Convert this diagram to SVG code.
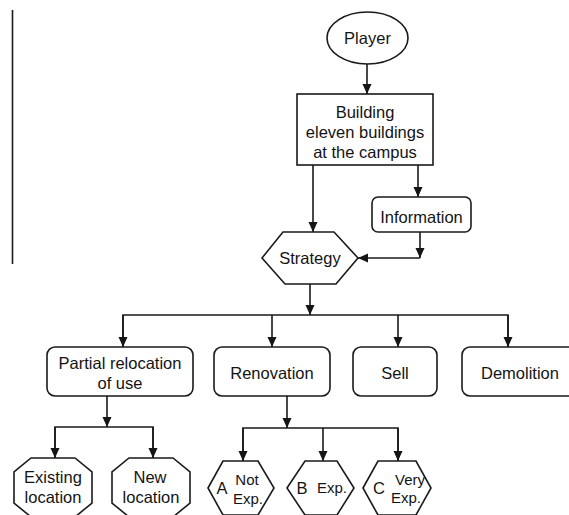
<svg xmlns="http://www.w3.org/2000/svg" width="569" height="515" viewBox="0 0 569 515">
<defs>
<marker id="ah" markerUnits="userSpaceOnUse" markerWidth="10" markerHeight="10" viewBox="0 0 10 10" refX="10" refY="5" orient="auto">
<path d="M0,0.5 L10,5 L0,9.5 Z" fill="#151515"/>
</marker>
<style>
.s{fill:#fff;stroke:#1a1a1a;stroke-width:1.6}
.t{font-family:"Liberation Sans",Arial,sans-serif;font-size:16.5px;fill:#141414;text-anchor:middle}
.sm{font-size:15px}
.c{fill:none;stroke:#1a1a1a;stroke-width:1.6}
</style>
</defs>
<rect width="569" height="515" fill="#fff"/>
<line x1="12.5" y1="10" x2="12.5" y2="264" stroke="#1a1a1a" stroke-width="1.6"/>
<g id="connectors">
<line class="c" x1="367" y1="64" x2="367" y2="94" marker-end="url(#ah)"/>
<line class="c" x1="313" y1="165" x2="313" y2="232" marker-end="url(#ah)"/>
<line class="c" x1="418" y1="165" x2="418" y2="197" marker-end="url(#ah)"/>
<line class="c" x1="420" y1="232" x2="420" y2="258" marker-end="url(#ah)"/>
<line class="c" x1="420" y1="258" x2="358" y2="258" marker-end="url(#ah)"/>
<line class="c" x1="310" y1="284" x2="310" y2="315" marker-end="url(#ah)"/>
<path class="c" d="M123,347 V315 H508 V347"/>
<line class="c" x1="123" y1="315" x2="123" y2="347" marker-end="url(#ah)"/>
<line class="c" x1="272" y1="315" x2="272" y2="347" marker-end="url(#ah)"/>
<line class="c" x1="398" y1="315" x2="398" y2="347" marker-end="url(#ah)"/>
<line class="c" x1="508" y1="315" x2="508" y2="347" marker-end="url(#ah)"/>
<line class="c" x1="107" y1="396" x2="107" y2="427" marker-end="url(#ah)"/>
<path class="c" d="M55,458 V427 H153 V458"/>
<line class="c" x1="55" y1="427" x2="55" y2="458" marker-end="url(#ah)"/>
<line class="c" x1="153" y1="427" x2="153" y2="458" marker-end="url(#ah)"/>
<line class="c" x1="287" y1="396" x2="287" y2="428" marker-end="url(#ah)"/>
<path class="c" d="M243,461 V428 H398 V461"/>
<line class="c" x1="243" y1="428" x2="243" y2="461" marker-end="url(#ah)"/>
<line class="c" x1="323" y1="428" x2="323" y2="461" marker-end="url(#ah)"/>
<line class="c" x1="398" y1="428" x2="398" y2="461" marker-end="url(#ah)"/>
</g>
<g id="player">
<ellipse class="s" cx="367.5" cy="38" rx="40.5" ry="26"/>
<text class="t" x="367.5" y="44">Player</text>
</g>
<g id="building">
<rect class="s" x="297" y="94" width="136" height="71"/>
<text class="t" x="365" y="118">Building</text>
<text class="t" x="365" y="138">eleven buildings</text>
<text class="t" x="365" y="158">at the campus</text>
</g>
<g id="information">
<rect class="s" x="372" y="197" width="99" height="35" rx="6"/>
<text class="t" x="421.5" y="223">Information</text>
</g>
<g id="strategy">
<polygon class="s" points="262,258 283,232 334,232 358,258 336,284 285,284"/>
<text class="t" x="310" y="264">Strategy</text>
</g>
<g id="partial">
<rect class="s" x="47" y="347" width="146" height="49" rx="8"/>
<text class="t" x="120" y="369">Partial relocation</text>
<text class="t" x="120" y="389">of use</text>
</g>
<g id="renovation">
<rect class="s" x="214" y="347" width="116" height="49" rx="8"/>
<text class="t" x="272" y="379">Renovation</text>
</g>
<g id="sell">
<rect class="s" x="353" y="347" width="84" height="49" rx="8"/>
<text class="t" x="395" y="379">Sell</text>
</g>
<g id="demolition">
<rect class="s" x="462" y="347" width="116" height="49" rx="8"/>
<text class="t" x="520" y="379">Demolition</text>
</g>
<g id="existing">
<polygon class="s" points="31,458 75,458 92,472 92,503 75,517 31,517 14,503 14,472"/>
<text class="t" x="53" y="483">Existing</text>
<text class="t" x="53" y="503">location</text>
</g>
<g id="new">
<polygon class="s" points="129,458 173,458 190,472 190,503 173,517 129,517 112,503 112,472"/>
<text class="t" x="150" y="483">New</text>
<text class="t" x="151" y="503">location</text>
</g>
<g id="optA">
<polygon class="s" points="208,488 223,461 258,461 274,488 258,515 223,515"/>
<text class="t" x="222" y="494">A</text>
<text class="t sm" x="247" y="485">Not</text>
<text class="t sm" x="248" y="504">Exp.</text>
</g>
<g id="optB">
<polygon class="s" points="287,488 305,461 337,461 354,488 337,515 305,515"/>
<text class="t" x="302" y="494">B</text>
<text class="t sm" x="332" y="493">Exp.</text>
</g>
<g id="optC">
<polygon class="s" points="363,488 378,461 416,461 431,488 416,515 378,515"/>
<text class="t" x="379" y="494">C</text>
<text class="t sm" x="410" y="485">Very</text>
<text class="t sm" x="406" y="503">Exp.</text>
</g>
</svg>
